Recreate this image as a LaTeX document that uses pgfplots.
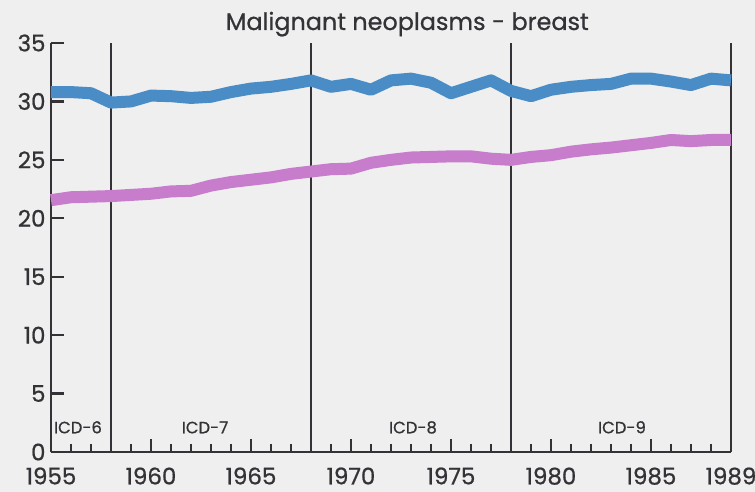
\documentclass[border=0pt]{standalone}
\usepackage{pgfplots}
\pgfplotsset{compat=1.18}
\usepackage{fontspec}
\setmainfont{Poppins}[FakeBold=0.8]
\definecolor{bg}{HTML}{EFEFEF}
\definecolor{ink}{HTML}{353237}
\definecolor{blueline}{HTML}{4A8DC6}
\definecolor{pinkline}{HTML}{C77DCC}

\pgfplotstableread{
year blue pink
1955 30.8 21.55
1956 30.8 21.8
1957 30.7 21.85
1958 29.9 21.9
1959 30.0 22.0
1960 30.5 22.1
1961 30.45 22.3
1962 30.3 22.35
1963 30.4 22.8
1964 30.8 23.1
1965 31.1 23.3
1966 31.25 23.5
1967 31.5 23.8
1968 31.8 24.0
1969 31.25 24.2
1970 31.5 24.25
1971 31.0 24.75
1972 31.8 25.0
1973 31.95 25.2
1974 31.6 25.25
1975 30.7 25.3
1976 31.25 25.3
1977 31.8 25.1
1978 30.9 25.0
1979 30.45 25.25
1980 31.0 25.4
1981 31.25 25.7
1982 31.4 25.9
1983 31.5 26.05
1984 31.95 26.25
1985 31.95 26.45
1986 31.7 26.7
1987 31.4 26.6
1988 31.95 26.7
1989 31.8 26.7
}\datatable

\begin{document}
\begin{tikzpicture}
\fill[bg] (-51bp,-40bp) rectangle (704bp,452bp);
\begin{axis}[
  at={(0,0)}, anchor=south west,
  scale only axis, width=680bp, height=409bp,
  xmin=1955, xmax=1989, ymin=0, ymax=35,
  axis lines=left,
  axis line style={-, ink, line width=2.6bp},
  clip=false,
  xtick={1955,1960,1965,1970,1975,1980,1985,1989},
  minor xtick={1956,1957,1958,1959,1961,1962,1963,1964,1966,1967,1968,1969,1971,1972,1973,1974,1976,1977,1978,1979,1981,1982,1983,1984,1986,1987,1988},
  ytick={0,5,...,35},
  tick align=inside,
  major tick length=13bp, minor tick length=8bp,
  tick style={ink, line width=2.4bp},
  major tick style={ink, line width=2.4bp},
  minor tick style={ink, line width=2.4bp},
  /pgf/number format/assume math mode=true,
  /pgf/number format/1000 sep={},
  ticklabel style={font=\fontsize{23}{23}\selectfont, text=ink},
  xticklabel style={yshift=-12bp},
  yticklabel style={xshift=-2bp},
]
\addplot[ink, line width=2.6bp] coordinates {(1958,0) (1958,35)};
\addplot[ink, line width=2.6bp] coordinates {(1968,0) (1968,35)};
\addplot[ink, line width=2.6bp] coordinates {(1978,0) (1978,35)};
\addplot[ink, line width=2.6bp] coordinates {(1989,0) (1989,35)};
\addplot[blueline, line width=12bp, line join=round] table[x=year, y=blue] {\datatable};
\addplot[pinkline, line width=12bp, line join=round] table[x=year, y=pink] {\datatable};
\node[anchor=base, text=ink, font=\fontsize{16.5}{17}\selectfont] at (axis cs:1956.35,1.6) {ICD-6};
\node[anchor=base, text=ink, font=\fontsize{16.5}{17}\selectfont] at (axis cs:1962.7,1.6) {ICD-7};
\node[anchor=base, text=ink, font=\fontsize{16.5}{17}\selectfont] at (axis cs:1973.1,1.6) {ICD-8};
\node[anchor=base, text=ink, font=\fontsize{16.5}{17}\selectfont] at (axis cs:1983.55,1.6) {ICD-9};
\node[anchor=base, text=ink, font=\fontsize{24}{24}\selectfont] at (rel axis cs:0.524,1) [yshift=13bp] {Malignant neoplasms - breast};
\end{axis}
\pgfresetboundingbox
\useasboundingbox (-51bp,-40bp) rectangle (704bp,452bp);
\end{tikzpicture}
\end{document}
